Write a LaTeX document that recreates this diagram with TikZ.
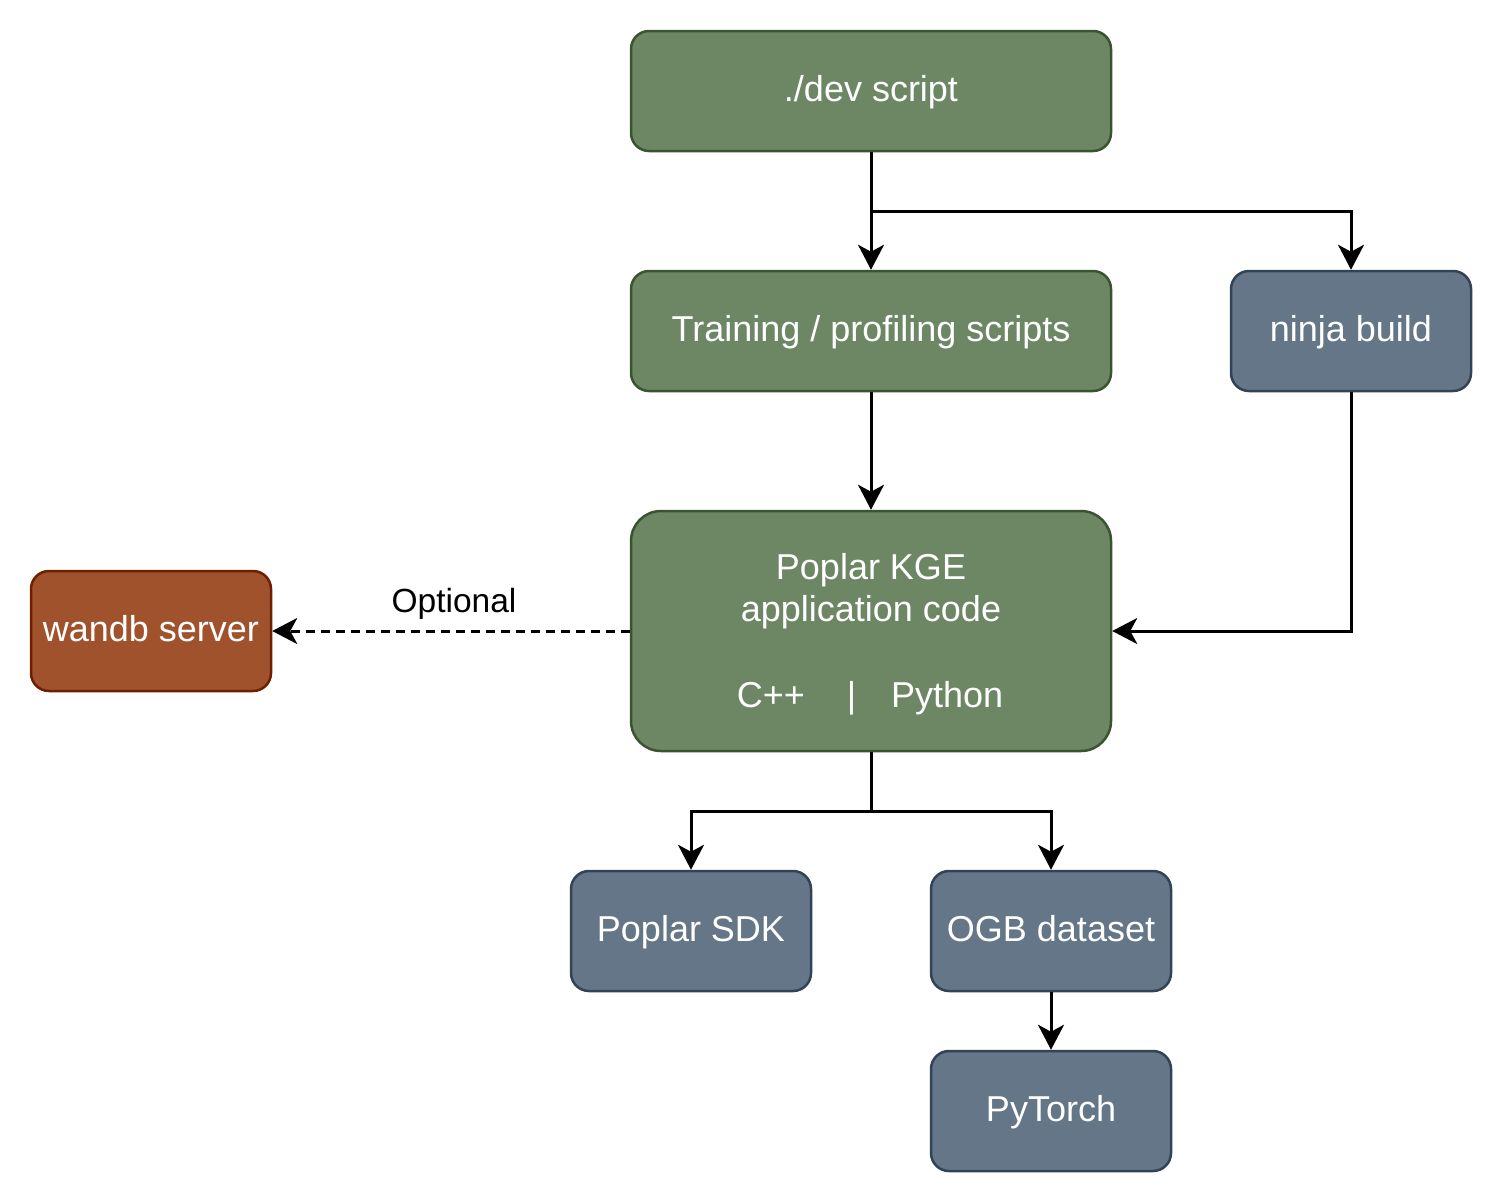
\documentclass[tikz,border=0pt]{standalone}
\usepackage{fontspec}
\setmainfont{Liberation Sans}
\usetikzlibrary{arrows.meta}
\definecolor{gfill}{HTML}{6D8764}
\definecolor{gdraw}{HTML}{3A5431}
\definecolor{bfill}{HTML}{647687}
\definecolor{bdraw}{HTML}{314354}
\definecolor{ofill}{HTML}{A0522D}
\definecolor{odraw}{HTML}{6D1F00}
\begin{document}
\begin{tikzpicture}[x=1pt,y=-1pt,
  box/.style={rectangle, rounded corners=18pt, draw, line width=2.5pt,
    minimum width=240pt, minimum height=120pt, inner sep=0pt, text=white,
    font=\fontsize{36}{43}\selectfont, text height=28pt, text depth=8pt},
  greenbox/.style={box, fill=gfill, draw=gdraw},
  bluebox/.style={box, fill=bfill, draw=bdraw},
  orangebox/.style={box, fill=ofill, draw=odraw},
  kgetext/.style={anchor=base, text=white, inner sep=0pt, font=\fontsize{36}{43}\selectfont},
  arr/.style={draw=black, line width=3pt, -{Stealth[length=25pt,width=26pt,inset=7pt]}},
  conn/.style={draw=black, line width=3pt}
]
\fill[white] (0,0) rectangle (1503,1203);
\useasboundingbox (0,0) rectangle (1503,1203);

\node[greenbox, minimum width=480pt] (dev) at (871,91) {./dev script};
\node[greenbox, minimum width=480pt] (train) at (871,331) {Training / profiling scripts};
\node[bluebox] (ninja) at (1351,331) {ninja build};
\node[greenbox, minimum width=480pt, minimum height=240pt, rounded corners=30pt] (kge) at (871,631) {};
\node[kgetext] (kge1) at (871,579) {Poplar KGE};
\node[kgetext] (kge2) at (871,621) {application code};
\node[kgetext] (kge3) at (870,707) {C++\hspace{42pt}|\hspace{35pt}Python};
\node[orangebox] (wandb) at (151,631) {wandb server};
\node[bluebox] (sdk) at (691,931) {Poplar SDK};
\node[bluebox] (ogb) at (1051,931) {OGB dataset};
\node[bluebox] (torch) at (1051,1111) {PyTorch};

\coordinate (j1) at (871,211);
\coordinate (j2) at (871,811);

\draw[arr] (dev.south) -- (train.north);
\draw[conn] (dev.south) -- (j1);
\draw[arr] (j1) -| (ninja.north);
\draw[arr] (train.south) -- (kge.north);
\draw[arr] (ninja.south) |- (kge.east);
\draw[arr, dash pattern=on 9pt off 6pt] (kge.west) -- node[above=10pt, xshift=3pt, text=black, inner sep=0pt, font=\fontsize{33.5}{40}\selectfont] (opt) {Optional} (wandb.east);
\draw[conn] (kge.south) -- (j2);
\draw[arr] (j2) -| (sdk.north);
\draw[arr] (j2) -| (ogb.north);
\draw[arr] (ogb.south) -- (torch.north);
\end{tikzpicture}
\end{document}
